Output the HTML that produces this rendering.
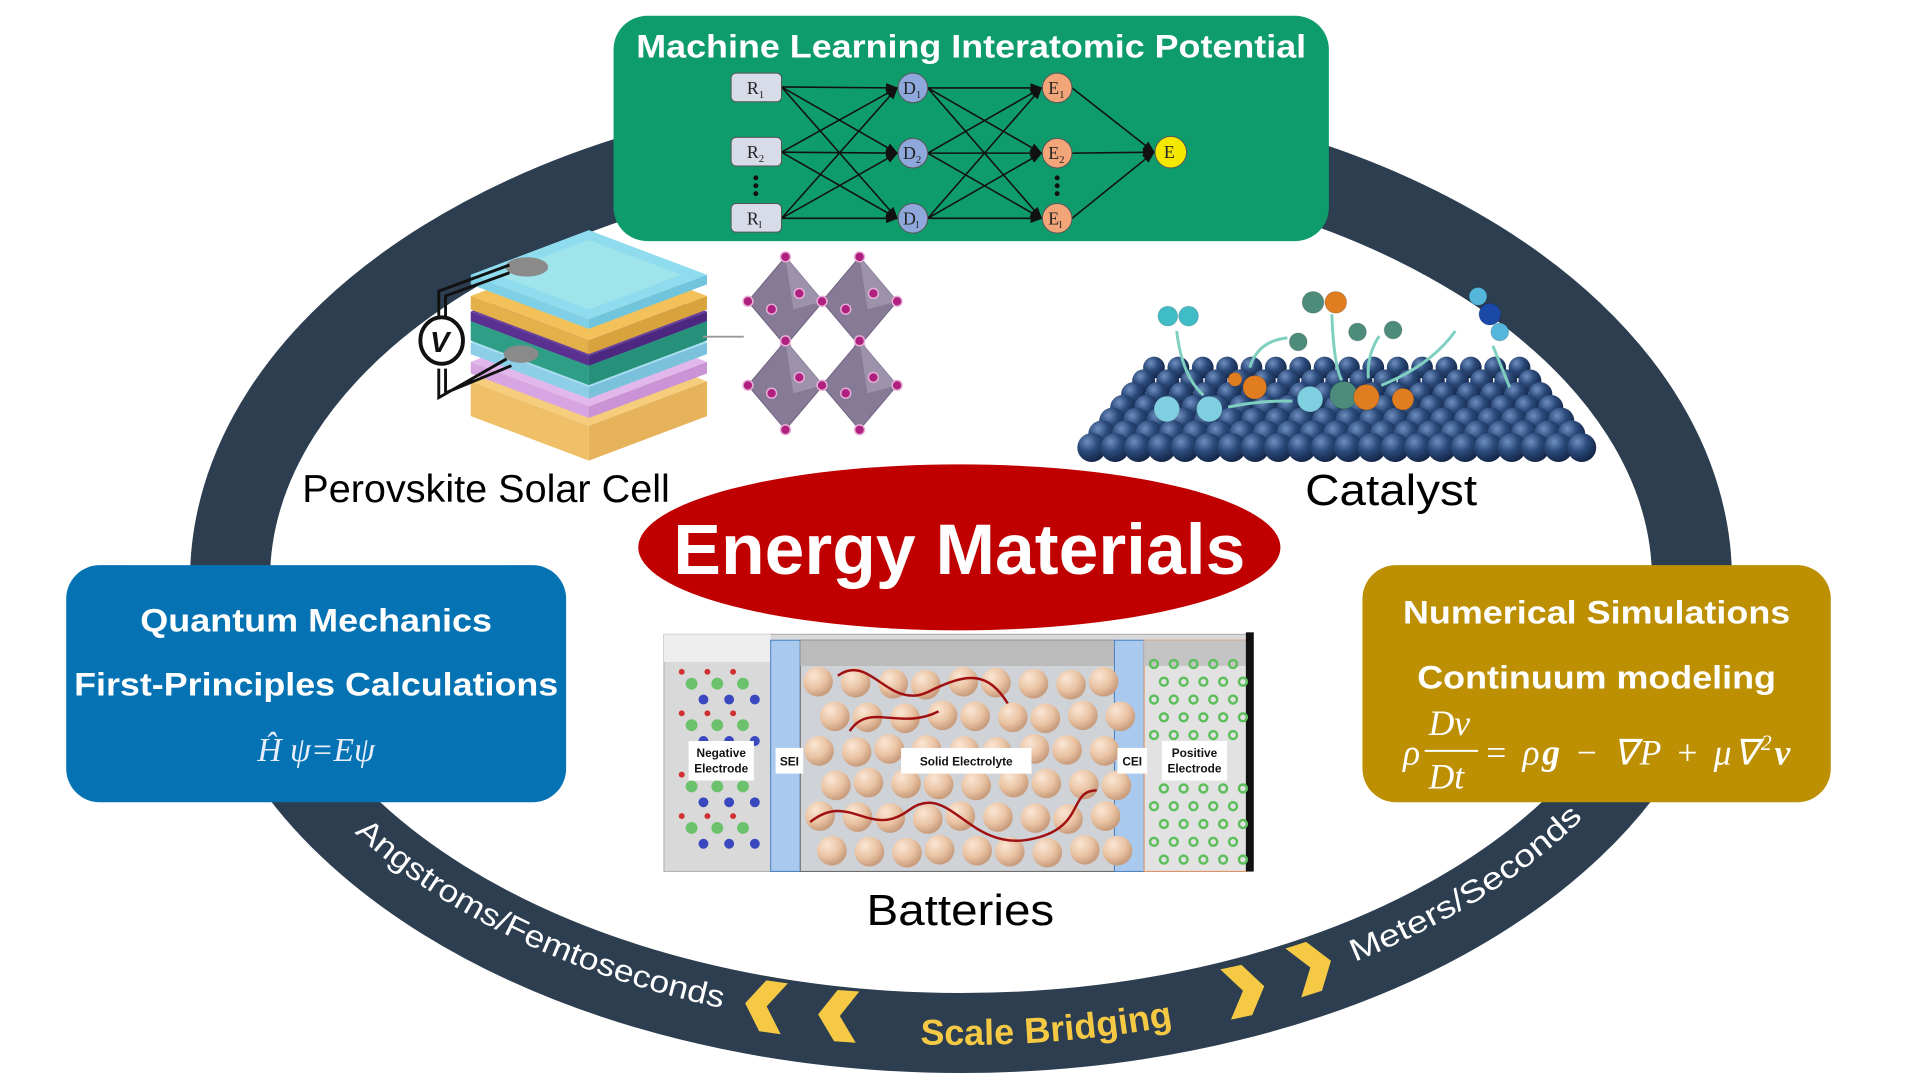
<!DOCTYPE html>
<html><head><meta charset="utf-8"><style>
html,body{margin:0;padding:0;background:#fff;}
body{width:1920px;height:1080px;overflow:hidden;position:relative;font-family:"Liberation Sans",Arial,sans-serif;}
svg{position:absolute;left:0;top:0;}
</style></head><body>
<svg id="s" width="1920" height="1080" viewBox="0 0 1920 1080" xmlns="http://www.w3.org/2000/svg">
<defs>
<radialGradient id="gb" cx="35%" cy="30%" r="70%"><stop offset="0" stop-color="#6f8fc0"/><stop offset="0.5" stop-color="#2b4a7a"/><stop offset="1" stop-color="#15284a"/></radialGradient>
<radialGradient id="gp" cx="35%" cy="30%" r="70%"><stop offset="0" stop-color="#fbe6d4"/><stop offset="0.6" stop-color="#e9c3a3"/><stop offset="1" stop-color="#c89c7c"/></radialGradient>
<marker id="ar" markerWidth="8" markerHeight="8" refX="7" refY="4" orient="auto"><path d="M0,1 L8,4 L0,7z" fill="#111"/></marker>
<path id="arc" d="M 230 580 A 731 453 0 0 0 1692 580"/>
</defs>
<ellipse cx="961" cy="580" rx="731" ry="453" fill="none" stroke="#2c3e50" stroke-width="80"/>
<text font-family="Liberation Sans, sans-serif" font-size="31" fill="#fff"><textPath href="#arc" startOffset="290" textLength="412" lengthAdjust="spacingAndGlyphs">Angstroms/Femtoseconds</textPath></text>
<text font-family="Liberation Sans, sans-serif" font-size="36" font-weight="bold" fill="#f6c945" dy="12"><textPath href="#arc" startOffset="1028" text-anchor="middle">Scale Bridging</textPath></text>
<text font-family="Liberation Sans, sans-serif" font-size="31" fill="#fff"><textPath href="#arc" startOffset="1345" textLength="272" lengthAdjust="spacingAndGlyphs">Meters/Seconds</textPath></text>
<g transform="scale(0.988)">
<g fill="#f6c945">
<polygon points="0,-26 22,-26 4,0 22,26 0,26 -18,0" transform="translate(772,1018) rotate(8)"/>
<polygon points="0,-26 22,-26 4,0 22,26 0,26 -18,0" transform="translate(846,1028) rotate(4)"/>
<polygon points="0,-26 -22,-26 -4,0 -22,26 0,26 18,0" transform="translate(1262,1002) rotate(-12)"/>
<polygon points="0,-26 -22,-26 -4,0 -22,26 0,26 18,0" transform="translate(1330,978) rotate(-18)"/>
</g>
<rect x="621" y="16" width="724" height="228" rx="34" fill="#0f9c6c"/>
<text x="983" y="58" text-anchor="middle" font-size="33" font-weight="bold" fill="#fff" textLength="678" lengthAdjust="spacingAndGlyphs">Machine Learning Interatomic Potential</text>
<g id="nn" stroke="#111" stroke-width="1.6" fill="none"></g>
<g font-family="Liberation Serif, serif" font-size="18" fill="#222">
<rect x="740" y="74" width="51" height="29" rx="5" fill="#d8dbe8" stroke="#555"/>
<rect x="740" y="139" width="51" height="29" rx="5" fill="#d8dbe8" stroke="#555"/>
<rect x="740" y="206" width="51" height="29" rx="5" fill="#d8dbe8" stroke="#555"/>
<text x="756" y="95">R<tspan font-size="11" dy="4">1</tspan></text>
<text x="756" y="160">R<tspan font-size="11" dy="4">2</tspan></text>
<text x="756" y="227">R<tspan font-size="11" dy="4">l</tspan></text>
<circle cx="765" cy="180" r="2.5" fill="#111"/><circle cx="765" cy="188" r="2.5" fill="#111"/><circle cx="765" cy="196" r="2.5" fill="#111"/>
<circle cx="924" cy="89" r="15" fill="#8fa8dc" stroke="#555"/>
<circle cx="924" cy="155" r="15" fill="#8fa8dc" stroke="#555"/>
<circle cx="924" cy="221" r="15" fill="#8fa8dc" stroke="#555"/>
<text x="914" y="95">D<tspan font-size="11" dy="4">1</tspan></text>
<text x="914" y="161">D<tspan font-size="11" dy="4">2</tspan></text>
<text x="914" y="227">D<tspan font-size="11" dy="4">l</tspan></text>
<circle cx="1070" cy="89" r="15" fill="#f3a57a" stroke="#555"/>
<circle cx="1070" cy="155" r="15" fill="#f3a57a" stroke="#555"/>
<circle cx="1070" cy="221" r="15" fill="#f3a57a" stroke="#555"/>
<text x="1061" y="95">E<tspan font-size="11" dy="4">1</tspan></text>
<text x="1061" y="161">E<tspan font-size="11" dy="4">2</tspan></text>
<text x="1061" y="227">E<tspan font-size="11" dy="4">l</tspan></text>
<circle cx="1070" cy="180" r="2.5" fill="#111"/><circle cx="1070" cy="188" r="2.5" fill="#111"/><circle cx="1070" cy="196" r="2.5" fill="#111"/>
<circle cx="1185" cy="154" r="16" fill="#f5e800" stroke="#555"/>
<text x="1178" y="160">E</text>
</g>
<rect x="67" y="572" width="506" height="240" rx="34" fill="#0572b4"/>
<text x="320" y="639" text-anchor="middle" font-size="33" font-weight="bold" fill="#fff" textLength="356" lengthAdjust="spacingAndGlyphs">Quantum Mechanics</text>
<text x="320" y="704" text-anchor="middle" font-size="33" font-weight="bold" fill="#fff" textLength="490" lengthAdjust="spacingAndGlyphs">First-Principles Calculations</text>
<text x="320" y="770" text-anchor="middle" font-family="Liberation Serif, serif" font-style="italic" font-size="34" fill="#e8eefc">Ĥ ψ=Eψ</text>
<rect x="1379" y="572" width="474" height="240" rx="34" fill="#bd8f03"/>
<text x="1616" y="631" text-anchor="middle" font-size="33" font-weight="bold" fill="#fff" textLength="392" lengthAdjust="spacingAndGlyphs">Numerical Simulations</text>
<text x="1616" y="697" text-anchor="middle" font-size="33" font-weight="bold" fill="#fff" textLength="363" lengthAdjust="spacingAndGlyphs">Continuum modeling</text>
<g font-family="Liberation Serif, serif" font-style="italic" font-size="36" fill="#fff">
<text x="1420" y="774">ρ</text>
<text x="1446" y="744">Dv</text>
<line x1="1442" y1="760" x2="1496" y2="760" stroke="#fff" stroke-width="2"/>
<text x="1446" y="798">Dt</text>
<text x="1502" y="774" textLength="310" lengthAdjust="spacing">= ρ<tspan font-weight="bold">g</tspan> − ∇P + μ∇<tspan font-size="22" dy="-15">2</tspan><tspan dy="15" font-weight="bold">v</tspan></text>
</g>
<ellipse cx="971" cy="554" rx="325" ry="84" fill="#c00000"/>
<text x="971" y="581" text-anchor="middle" font-size="72" font-weight="bold" fill="#fff" textLength="579" lengthAdjust="spacingAndGlyphs">Energy Materials</text>
<text x="306" y="508" font-size="39" fill="#000" textLength="372" lengthAdjust="spacingAndGlyphs">Perovskite Solar Cell</text>
<text x="1321" y="511" font-size="44" fill="#000" textLength="174" lengthAdjust="spacingAndGlyphs">Catalyst</text>
<text x="972" y="936" text-anchor="middle" font-size="44" fill="#000" textLength="190" lengthAdjust="spacingAndGlyphs">Batteries</text>
<g id="stack" transform="translate(8,-14) scale(0.98)"></g>
<g id="crys"></g>
<g id="cat" transform="translate(18,0)"></g>
<g id="bat">
<rect x="672" y="642" width="596" height="240" fill="#d9d9d9" stroke="#aaa"/>
<rect x="672" y="642" width="108" height="28" fill="#eee"/>
<rect x="780" y="648" width="30" height="234" fill="#a9c9ee" stroke="#4a7fc0"/>
<rect x="810" y="648" width="318" height="234" fill="#cfd2d6" stroke="#666"/>
<rect x="810" y="648" width="318" height="26" fill="#bbb"/>
<rect x="1128" y="648" width="30" height="234" fill="#a9c9ee" stroke="#4a7fc0"/>
<rect x="1158" y="648" width="104" height="234" fill="#e2e2e2" stroke="#e09060"/>
<rect x="1158" y="648" width="104" height="26" fill="#c4c4c4"/>
<rect x="1261" y="640" width="8" height="242" fill="#111"/>
</g>
<g id="batin"></g>
<g id="batlbl" font-family="Liberation Sans, sans-serif" font-weight="bold" font-size="12" fill="#111" text-anchor="middle">
<rect x="697" y="750" width="66" height="40" fill="#fff"/><text x="730" y="766">Negative</text><text x="730" y="782">Electrode</text>
<rect x="785" y="757" width="28" height="26" fill="#fff"/><text x="799" y="775">SEI</text>
<rect x="912" y="757" width="132" height="26" fill="#fff"/><text x="978" y="775">Solid Electrolyte</text>
<rect x="1131" y="757" width="30" height="26" fill="#fff"/><text x="1146" y="775">CEI</text>
<rect x="1176" y="750" width="66" height="40" fill="#fff"/><text x="1209" y="766">Positive</text><text x="1209" y="782">Electrode</text>
</g>
</g>
</svg>
<script>
var NS="http://www.w3.org/2000/svg";
function el(p,t,a){var e=document.createElementNS(NS,t);for(var k in a)e.setAttribute(k,a[k]);document.getElementById(p).appendChild(e);return e;}
var R=[88,154,221],D=[89,155,221],E=[89,155,221];
R.forEach(function(r){D.forEach(function(d){el("nn","line",{x1:791,y1:r,x2:908,y2:d,"marker-end":"url(#ar)"});});});
D.forEach(function(r){E.forEach(function(d){el("nn","line",{x1:939,y1:r,x2:1054,y2:d,"marker-end":"url(#ar)"});});});
E.forEach(function(r){el("nn","line",{x1:1085,y1:r,x2:1168,y2:154,"marker-end":"url(#ar)"});});
function layer(cy,th,top,side,side2){
 var cx=600,w=122,h=46;
 el("stack","polygon",{points:(cx-w)+","+cy+" "+cx+","+(cy+h)+" "+cx+","+(cy+h+th)+" "+(cx-w)+","+(cy+th),fill:side});
 el("stack","polygon",{points:cx+","+(cy+h)+" "+(cx+w)+","+cy+" "+(cx+w)+","+(cy+th)+" "+cx+","+(cy+h+th),fill:side2});
 el("stack","polygon",{points:(cx-w)+","+cy+" "+cx+","+(cy-h)+" "+(cx+w)+","+cy+" "+cx+","+(cy+h),fill:top});
}
layer(408,36,"#f5cd7c","#efc068","#e6b35a");
layer(388,12,"#e2b8ec","#d7a6e2","#c993d6");
layer(368,12,"#a7dff0","#8ccfe6","#7ac2dc");
layer(346,20,"#3fb29a","#2f9e86","#26907a");
layer(336,10,"#6a3fa0","#5a3090","#4d2880");
layer(320,14,"#f2c15a","#e4b04a","#d8a23c");
layer(298,10,"#8fdcef","#7fd0e6","#70c4dc");
el("stack","polygon",{points:"505,298 600,262 695,298 600,334",fill:"#a3e6e8",opacity:"0.8"});
el("stack","ellipse",{cx:536,cy:290,rx:22,ry:10,fill:"#8a8a8a"});
el("stack","ellipse",{cx:530,cy:380,rx:18,ry:9,fill:"#8a8a8a"});
el("stack","path",{d:"M518,288 L445,315 L445,350 M518,296 L452,320 L452,350 M445,395 L445,425 L515,385 M452,395 L452,420 L520,392",stroke:"#111","stroke-width":"3",fill:"none"});
el("stack","ellipse",{cx:448,cy:366,rx:22,ry:24,fill:"#fff",stroke:"#111","stroke-width":"4"});
var tv=el("stack","text",{x:436,y:378,"font-size":"30","font-weight":"bold","font-style":"italic",fill:"#111"});tv.textContent="V";
el("stack","line",{x1:718,y1:362,x2:760,y2:362,stroke:"#999","stroke-width":"2"});
[[795,305],[870,305],[795,390],[870,390]].forEach(function(c){
 var x=c[0],y=c[1];
 el("crys","polygon",{points:x+","+(y-45)+" "+(x+38)+","+y+" "+x+","+(y+45)+" "+(x-38)+","+y,fill:"#877a96",stroke:"#6e6280"});
 el("crys","polygon",{points:x+","+(y-45)+" "+(x+38)+","+y+" "+(x+8)+","+(y+8),fill:"#9d92ab"});
 [[0,-45],[38,0],[0,45],[-38,0],[-14,8],[14,-8]].forEach(function(o){el("crys","circle",{cx:x+o[0],cy:y+o[1],r:5,fill:"#b0207f",stroke:"#e8b0d8","stroke-width":"1.5"});});
});
for(var r=0;r<7;r++){
 var y=372+r*13.5, x0=1150-r*10.5, x1=1520+r*10.5, n=Math.round((x1-x0)/24);
 for(var i=0;i<=n;i++){el("cat","circle",{cx:x0+i*(x1-x0)/n,cy:y,r:11+r*0.6,fill:"url(#gb)"});}
}
function ball(x,y,r,c){el("cat","circle",{cx:x,cy:y,r:r,fill:c,stroke:"rgba(0,0,0,0.15)"});}
ball(1164,320,10,"#3fbcc6");ball(1185,320,10,"#3fbcc6");
ball(1311,306,11,"#4d8c7a");ball(1334,306,11,"#e07d20");ball(1356,336,9,"#4d8c7a");ball(1392,334,9,"#4d8c7a");ball(1296,346,9,"#4d8c7a");
ball(1478,300,9,"#55b6dc");ball(1490,318,11,"#1a49a8");ball(1500,336,9,"#55b6dc");
el("cat","path",{d:"M1173,335 Q1178,380 1200,400 M1225,412 Q1260,405 1290,406 M1247,372 Q1255,345 1285,342 M1330,318 Q1332,370 1340,385 M1378,340 Q1365,360 1367,383 M1380,390 Q1430,370 1455,335 M1493,350 L1510,392",stroke:"#7fd0c0","stroke-width":"3",fill:"none"});
ball(1163,414,13,"#7fcfe0");ball(1206,414,13,"#7fcfe0");ball(1308,404,13,"#7fcfe0");ball(1252,392,12,"#e07d20");ball(1232,384,7,"#e07d20");ball(1342,400,14,"#4d8c7a");ball(1365,402,13,"#e07d20");ball(1402,404,11,"#e07d20");
var pts=[];for(var i=0;i<9;i++)for(var j=0;j<6;j++){pts.push([830+i*36+(j%2)*14+((i*7+j*3)%5)-2, 690+j*34+((i*5+j)%4)]);}
pts.forEach(function(p){el("batin","circle",{cx:p[0],cy:p[1],r:15,fill:"url(#gp)"});});
["M848,684 C880,660 900,720 940,700 S1000,680 1020,712","M860,740 C880,710 910,740 950,720","M820,832 C860,800 880,850 920,820 S980,860 1040,850 S1080,800 1110,800"].forEach(function(d){el("batin","path",{d:d,stroke:"#a01010","stroke-width":"2.5",fill:"none"});});
for(var j=0;j<12;j++)for(var i=0;i<5;i++){var y=672+j*18;if(y>745&&y<795)continue;el("batin","circle",{cx:1168+i*20+(j%2)*10,cy:y,r:4,fill:"none",stroke:"#5cbf5c","stroke-width":"2.5"});}
for(var j=0;j<4;j++)for(var i=0;i<3;i++){var y=692+j*42+(j>1?20:0);el("batin","circle",{cx:700+i*26,cy:y,r:6,fill:"#6cc26c"});el("batin","circle",{cx:712+i*26,cy:y+16,r:5,fill:"#3a48c0"});el("batin","circle",{cx:690+i*26,cy:y-12,r:3,fill:"#d03030"});}
</script>
</body></html>
